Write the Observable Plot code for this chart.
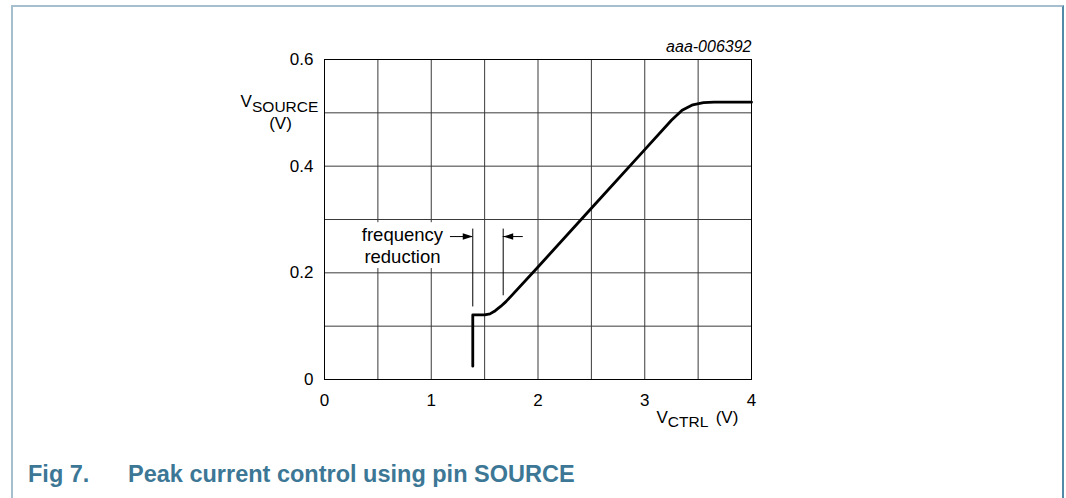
<!DOCTYPE html>
<html>
<head>
<meta charset="utf-8">
<script src="https://cdn.jsdelivr.net/npm/d3@7"></script>
<script src="https://cdn.jsdelivr.net/npm/@observablehq/plot@0.6"></script>
<style>
  html, body { margin: 0; padding: 0; background: white; width: 1066px; height: 498px; overflow: hidden; }
  #frame { position: absolute; left: 11px; top: 5px; width: 1049px; height: 500px;
           border-top: 2px solid #a6bfce; border-left: 2px solid #a6bfce; border-right: 2px solid #5289a7; }
  #chart { position: absolute; left: 0; top: 0; }
  .cap { position: absolute; top: 463px; font-family: "Liberation Sans", Arial, sans-serif; font-weight: bold;
         font-size: 23.5px; line-height: 22px; color: #3d7796; white-space: nowrap; }
</style>
</head>
<body>
<div id="frame"></div>
<div id="chart"></div>
<div class="cap" style="left:28px">Fig 7.</div>
<div class="cap" style="left:128px">Peak current control using pin SOURCE</div>
<script>
// ---- data ----
const xTicks = [0, 1, 2, 3, 4];
const yTicks = [0, 0.2, 0.4, 0.6];
const xGrid = [0, 0.5, 1, 1.5, 2, 2.5, 3, 3.5, 4];
const yGrid = [0, 0.1, 0.2, 0.3, 0.4, 0.5, 0.6];

// V_CTRL (V) and V_SOURCE (V)
const vctrl   = [1.389, 1.389, 1.50, 1.55, 1.60, 1.65, 1.70, 2.00, 2.50, 3.00, 3.25, 3.35, 3.45, 3.55, 3.65, 4.00];
const vsource = [0.025, 0.121, 0.121, 0.123, 0.129, 0.137, 0.146, 0.211, 0.321, 0.431, 0.486, 0.505, 0.515, 0.519, 0.520, 0.520];

// frequency-reduction markers and arrows
const markerX  = [1.389, 1.674];
const markerY1 = [0.136, 0.157];
const markerY2 = [0.282, 0.282];
const arrowFrom = [1.18, 1.862];
const arrowTo   = [1.389, 1.674];
const arrowDir  = [0, 180];
const arrowY    = 0.268;

const annoText = "frequency\nreduction";
const annoPos = {x: 0.73, y: 0.2515};
const annoBox = {x1: 0.318, x2: 1.162, y1: 0.208, y2: 0.294};

const curve = vctrl.map((x, i) => ({x, y: vsource[i]}));
const markers = markerX.map((x, i) => ({x, y1: markerY1[i], y2: markerY2[i]}));
const arrows = arrowFrom.map((x1, i) => ({x1, x2: arrowTo[i], y: arrowY, dir: arrowDir[i]}));

// narrow filled arrowhead, tip at the origin, pointing right
const arrowHead = {
  draw(context) {
    context.moveTo(0, 0);
    context.lineTo(-10, -3.2);
    context.lineTo(-10, 3.2);
    context.closePath();
  }
};

const font = "'Liberation Sans', Arial, Helvetica, sans-serif";

const plot = Plot.plot({
  width: 1066,
  height: 440,
  marginLeft: 324,
  marginRight: 315,
  marginTop: 59,
  marginBottom: 61,
  x: {domain: [0, 4]},
  y: {domain: [0, 0.6]},
  style: {fontFamily: font, fontSize: "17px", color: "black", background: "transparent", overflow: "visible"},
  marks: [
    Plot.ruleX(xGrid, {stroke: "#3a3a3a", strokeWidth: 1}),
    Plot.ruleY(yGrid, {stroke: "#3a3a3a", strokeWidth: 1}),
    Plot.rect([annoBox], {x1: "x1", x2: "x2", y1: "y1", y2: "y2", fill: "white"}),
    Plot.text([annoPos], {x: "x", y: "y", text: () => annoText, fontSize: 18.5, lineHeight: 1.17, fill: "black"}),
    Plot.ruleX(markers, {x: "x", y1: "y1", y2: "y2", stroke: "black", strokeWidth: 1}),
    Plot.ruleY(arrows, {x1: "x1", x2: "x2", y: "y", stroke: "black", strokeWidth: 1}),
    Plot.dot(arrows, {x: "x2", y: "y", symbol: arrowHead, rotate: "dir", fill: "black", stroke: "none", r: 4}),
    Plot.line(curve, {x: "x", y: "y", stroke: "black", strokeWidth: 2.8, strokeLinejoin: "round"}),
    Plot.axisX({ticks: xTicks, tickSize: 0, tickPadding: 14, label: null, tickFormat: d => String(d), fontSize: 17}),
    Plot.axisY({ticks: yTicks, tickSize: 0, tickPadding: 11, label: null, tickFormat: d => String(d), fontSize: 17}),
    Plot.frame({stroke: "black", strokeWidth: 1}),
    // y-axis label  V_SOURCE (V)
    Plot.text([{x: -0.787, y: 0.5207}], {x: "x", y: "y", text: () => "V", textAnchor: "start", fontSize: 17}),
    Plot.text([{x: -0.679, y: 0.5102}], {x: "x", y: "y", text: () => "SOURCE", textAnchor: "start", fontSize: 15.5}),
    Plot.text([{x: -0.412, y: 0.4808}], {x: "x", y: "y", text: () => "(V)", textAnchor: "middle", fontSize: 17}),
    // x-axis label  V_CTRL (V)
    Plot.text([{x: 3.110, y: -0.0705}], {x: "x", y: "y", text: () => "V", textAnchor: "start", fontSize: 17}),
    Plot.text([{x: 3.216, y: -0.0791}], {x: "x", y: "y", text: () => "CTRL", textAnchor: "start", fontSize: 15.5}),
    Plot.text([{x: 3.664, y: -0.0705}], {x: "x", y: "y", text: () => "(V)", textAnchor: "start", fontSize: 17}),
    // figure id
    Plot.text([{x: 4, y: 0.623}], {x: "x", y: "y", text: () => "aaa-006392", textAnchor: "end", fontSize: 16, fontStyle: "italic"})
  ]
});
document.getElementById("chart").appendChild(plot);
</script>
</body>
</html>
